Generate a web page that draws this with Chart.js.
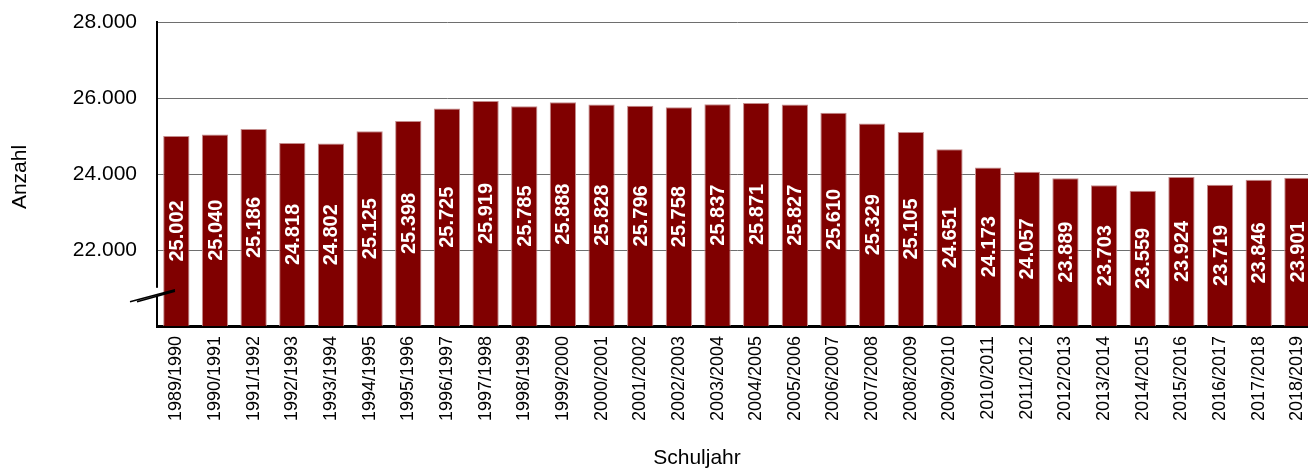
<!DOCTYPE html>
<html>
<head>
<meta charset="utf-8">
<script src="https://cdn.jsdelivr.net/npm/chart.js@4"></script>
<style>
  html, body { margin: 0; padding: 0; background: #fff; overflow: hidden; }
  #wrap { width: 1329px; height: 468px; position: relative; }
</style>
</head>
<body>
<div id="wrap"><canvas id="myChart"></canvas></div>
<script>
  var years = ['1989/1990', '1990/1991', '1991/1992', '1992/1993', '1993/1994', '1994/1995', '1995/1996', '1996/1997',
      '1997/1998', '1998/1999', '1999/2000', '2000/2001', '2001/2002', '2002/2003', '2003/2004', '2004/2005',
      '2005/2006', '2006/2007', '2007/2008', '2008/2009', '2009/2010', '2010/2011', '2011/2012', '2012/2013',
      '2013/2014', '2014/2015', '2015/2016', '2016/2017', '2017/2018', '2018/2019'];
  var pupils = [25002, 25040, 25186, 24818, 24802, 25125, 25398, 25725, 25919, 25785, 25888, 25828, 25796, 25758,
      25837, 25871, 25827, 25610, 25329, 25105, 24651, 24173, 24057, 23889, 23703, 23559, 23924, 23719, 23846, 23901];
  var yTicks = [22000, 24000, 26000, 28000];
  var FONT = '"Liberation Sans", Arial, sans-serif';

  function fmt(v) {
      return String(v).replace(/\B(?=(\d{3})+(?!\d))/g, '.');
  }

  // white value labels in the middle of each bar + axis titles
  const barLabels = {
      id: 'barLabels',
      afterDraw(chart) {
          const ctx = chart.ctx;
          const meta = chart.getDatasetMeta(0);
          const base = chart.scales.y.getPixelForValue(20000);
          ctx.save();
          ctx.fillStyle = '#fff';
          ctx.font = 'bold 20px ' + FONT;
          ctx.textAlign = 'center';
          ctx.textBaseline = 'middle';
          meta.data.forEach(function (bar, i) {
              const mid = (bar.y + base) / 2;
              ctx.save();
              ctx.translate(bar.x, mid);
              ctx.rotate(-Math.PI / 2);
              ctx.fillText(fmt(pupils[i]), 0, 1);
              ctx.restore();
          });
          ctx.fillStyle = '#000';
          ctx.font = '21px ' + FONT;
          ctx.fillText('Schuljahr', 697, 458);
          ctx.translate(20, 177);
          ctx.rotate(-Math.PI / 2);
          ctx.fillText('Anzahl', 0, 0);
          ctx.restore();
      }
  };

  // axis break sign on the y axis
  const axisBreak = {
      id: 'axisBreak',
      afterDraw(chart) {
          const ctx = chart.ctx;
          const x0 = chart.chartArea.left;
          const y0 = chart.scales.y.getPixelForValue(20900);
          ctx.save();
          ctx.fillStyle = '#fff';
          ctx.fillRect(x0 - 2, y0 - 4, 4, 8);
          ctx.strokeStyle = '#000';
          ctx.lineWidth = 1.5;
          ctx.beginPath();
          ctx.moveTo(x0 - 27, y0 + 10);
          ctx.lineTo(x0 + 18, y0 - 2);
          ctx.moveTo(x0 - 20, y0 + 10);
          ctx.lineTo(x0 + 18, y0 - 0.5);
          ctx.stroke();
          ctx.restore();
      }
  };

  new Chart('myChart', {
      type: 'bar',
      data: {
          labels: years,
          datasets: [{
              data: pupils,
              backgroundColor: '#800000',
              borderColor: '#c48c8c',
              borderWidth: 1,
              barPercentage: 0.68,
              categoryPercentage: 1
          }]
      },
      options: {
          responsive: true,
          maintainAspectRatio: false,
          animation: false,
          layout: { padding: { top: 0, left: 0, right: 0, bottom: 0 } },
          plugins: {
              legend: { display: false },
              tooltip: { enabled: false }
          },
          scales: {
              y: {
                  min: 20000,
                  max: 28000,
                  z: 1,
                  afterFit: function (s) { s.width = 157; s.paddingTop = 22; },
                  afterBuildTicks: function (s) {
                      s.ticks = [20000].concat(yTicks).map(function (v) { return { value: v }; });
                  },
                  ticks: {
                      padding: 20,
                      color: '#000',
                      font: { family: FONT, size: 21 },
                      callback: function (v) { return v === 20000 ? '' : fmt(v); }
                  },
                  grid: { color: '#6e6e6e', lineWidth: 1, drawTicks: false },
                  border: { color: '#000', width: 2 }
              },
              x: {
                  z: 1,
                  afterFit: function (s) { s.height = 142; },
                  ticks: {
                      autoSkip: false,
                      minRotation: 90,
                      maxRotation: 90,
                      padding: 10,
                      color: '#000',
                      font: { family: FONT, size: 18 }
                  },
                  grid: { display: false, drawTicks: false },
                  border: { color: '#000', width: 3 }
              }
          }
      },
      plugins: [barLabels, axisBreak]
  });
</script>
</body>
</html>
